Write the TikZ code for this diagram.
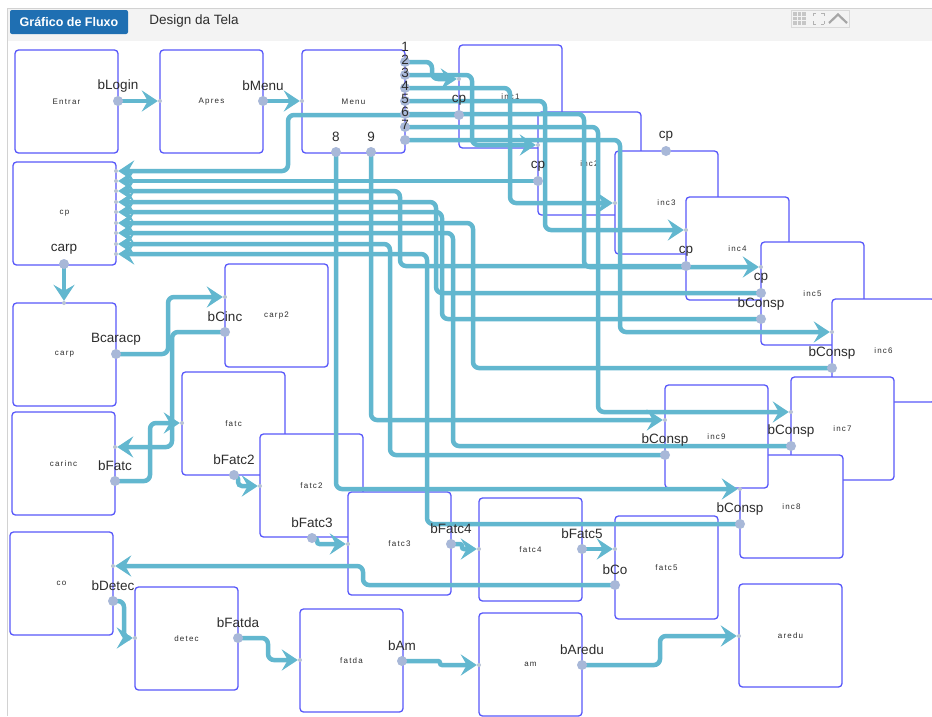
\documentclass[tikz,border=0pt]{standalone}
\usepackage{fontspec}
\setmainfont{Liberation Sans}
\newfontfamily\boxfont[LetterSpace=15]{Liberation Sans}
\usetikzlibrary{arrows.meta,calc}
\definecolor{boxc}{RGB}{88,88,250}
\definecolor{wirec}{RGB}{98,183,207}
\definecolor{portc}{RGB}{168,184,216}
\definecolor{inpc}{RGB}{185,195,212}
\definecolor{tabblue}{RGB}{31,111,178}
\definecolor{barc}{RGB}{243,243,243}
\definecolor{txt}{RGB}{45,45,45}
\pgfdeclarelayer{bg}\pgfdeclarelayer{boxes}\pgfdeclarelayer{wires}
\pgfsetlayers{bg,boxes,wires,main}
\newcommand\oport[4]{\node[outp] (#1) at (#2,#3) {};\node[plab] (#1-l) at (#2,#3-15) {#4};}
\newcommand\iport[3]{\node[inp] (#1) at (#2,#3) {};}
\begin{document}
\begin{tikzpicture}[x=1pt,y=-1pt,
  box/.style={draw=boxc, fill=white, line width=1.3pt, rounded corners=3.5pt, minimum width=103pt, minimum height=103pt, inner sep=0pt, font=\boxfont\fontsize{8}{9}\selectfont, text=txt},
  wire/.style={draw=wirec, line width=4.5pt, rounded corners=6pt},
  arr/.style={wire, -{Stealth[length=16pt,width=21pt,inset=6pt]}},
  outp/.style={circle, fill=portc, minimum size=10pt, inner sep=0pt},
  inp/.style={circle, fill=inpc, minimum size=4pt, inner sep=0pt},
  plab/.style={font=\fontsize{13.5}{14}\selectfont, text=txt, inner sep=0pt}]
\useasboundingbox (0,0) rectangle (932,716);
\begin{pgfonlayer}{bg}
\fill[white] (0,0) rectangle (932,716);
\fill[barc] (8,8) rectangle (932,41);
\draw[gray!35, line width=1pt] (7,716) -- (7,8) -- (932,8);
\fill[tabblue, rounded corners=2pt] (10,10) rectangle (128,34);
\node[white, font=\bfseries\fontsize{12.5}{13}\selectfont] (tab1) at (69,21.5) {Gráfico de Fluxo};
\node[txt, font=\fontsize{13.5}{14}\selectfont] (tab2) at (194,21) {Design da Tela};
\draw[gray!30, fill=barc] (791,10) rectangle (849,27);
\foreach \i in {0,1,2}{\foreach \j in {0,1,2}{\fill[gray!45] (793+\i*4.5,12+\j*4.5) rectangle ++(3.5,3.5);}}
\draw[gray!60, line width=0.8pt] (813,13) -- (816,13) (813,13) -- (813,16) (824,13) -- (821,13) (824,13) -- (824,16) (813,24) -- (816,24) (813,24) -- (813,21) (824,24) -- (821,24) (824,24) -- (824,21);
\draw[gray!70, line width=2.2pt] (829,23) -- (838,14.5) -- (847,23);
\end{pgfonlayer}
\begin{pgfonlayer}{boxes}
\node[box] (entrar) at (66.5,101.5) {Entrar};
\node[box] (apres) at (211.5,101.5) {Apres};
\node[box] (menu) at (353.5,101.5) {Menu};
\node[box] (inc1) at (510.5,96.5) {inc1};
\node[box] (inc2) at (589.5,163.5) {inc2};
\node[box] (inc3) at (666.5,202.5) {inc3};
\node[box] (inc4) at (737.5,248.5) {inc4};
\node[box] (inc5) at (812.5,293.5) {inc5};
\node[box] (inc6) at (883.5,350.5) {inc6};
\node[box] (inc7) at (842.5,428.5) {inc7};
\node[box] (inc8) at (791.5,506.5) {inc8};
\node[box] (inc9) at (716.5,436.5) {inc9};
\node[box] (cpbox) at (64.5,213.5) {cp};
\node[box] (carp) at (64.5,354.5) {carp};
\node[box] (carp2) at (276.5,315.5) {carp2};
\node[box] (carinc) at (63.5,463.5) {carinc};
\node[box] (fatc) at (233.5,423.5) {fatc};
\node[box] (fatc2) at (311.5,485.5) {fatc2};
\node[box] (fatc3) at (399.5,543.5) {fatc3};
\node[box] (fatc4) at (530.5,549.5) {fatc4};
\node[box] (fatc5) at (666.5,567.5) {fatc5};
\node[box] (co) at (61.5,583.5) {co};
\node[box] (detec) at (186.5,638.5) {detec};
\node[box] (fatda) at (351.5,660.5) {fatda};
\node[box] (am) at (530.5,664.5) {am};
\node[box] (aredu) at (790.5,635.5) {aredu};
\end{pgfonlayer}
% output ports
\oport{pLogin}{118}{101}{bLogin}
\oport{pMenu}{263}{101}{bMenu}
\oport{m1}{405}{62}{1}
\oport{m2}{405}{75}{2}
\oport{m3}{405}{88}{3}
\oport{m4}{405}{101}{4}
\oport{m5}{405}{114}{5}
\oport{m6}{405}{127}{6}
\oport{m7}{405}{140}{7}
\oport{m8}{336}{152}{8}
\oport{m9}{371}{152}{9}
\oport{c1}{459}{115}{cp}
\oport{c2}{538}{181}{cp}
\oport{c3}{666}{151}{cp}
\oport{c4}{686}{266}{cp}
\oport{c5}{761}{293}{cp}
\oport{b5}{761}{319}{bConsp}
\oport{b6}{832}{368}{bConsp}
\oport{b9}{665}{455}{bConsp}
\oport{b7}{791}{446}{bConsp}
\oport{b8}{740}{524}{bConsp}
\oport{pCarp}{64}{264}{carp}
\oport{pBcaracp}{116}{354}{Bcaracp}
\oport{pBCinc}{225}{332}{bCinc}
\oport{pBFatc}{115}{481}{bFatc}
\oport{pBFatc2}{234}{475}{bFatc2}
\oport{pBFatc3}{312}{538}{bFatc3}
\oport{pBFatc4}{451}{544}{bFatc4}
\oport{pBFatc5}{582}{549}{bFatc5}
\oport{pBCo}{615}{585}{bCo}
\oport{pBDetec}{113}{601}{bDetec}
\oport{pBFatda}{238}{638}{bFatda}
\oport{pBAm}{402}{661}{bAm}
\oport{pBAredu}{582}{665}{bAredu}
% input ports
\iport{iApres}{160}{101}
\iport{iMenu}{302}{101}
\iport{iInc1}{459}{79}
\iport{iInc2}{538}{145}
\iport{iInc3}{615}{203}
\iport{iInc4}{686}{230}
\iport{iInc5}{761}{267}
\iport{iInc6}{832}{332}
\iport{iInc7}{791}{412}
\iport{iInc9}{665}{420}
\iport{iInc8}{740}{489}
\iport{cpi1}{116}{171}
\iport{cpi2}{116}{181}
\iport{cpi3}{116}{191}
\iport{cpi4}{116}{202}
\iport{cpi5}{116}{212}
\iport{cpi6}{116}{223}
\iport{cpi7}{116}{233}
\iport{cpi8}{116}{244}
\iport{cpi9}{116}{254}
\iport{iCarp}{64}{303}
\iport{iCarp2}{225}{297}
\iport{iCarinc}{115}{447}
\iport{iFatc}{182}{423}
\iport{iFatc2}{260}{486}
\iport{iFatc3}{348}{544}
\iport{iFatc4}{479}{549}
\iport{iFatc5}{615}{549}
\iport{iCo}{113}{566}
\iport{iDetec}{135}{638}
\iport{iFatda}{300}{660}
\iport{iAm}{479}{665}
\iport{iAredu}{739}{636}
\begin{pgfonlayer}{wires}
\draw[arr] (pLogin.center) -- (iApres);
\draw[arr] (pMenu.center) -- (iMenu);
\draw[arr] (m1.center) -- (432,62) |- (iInc1);
\draw[arr] (m2.center) -- (472,75) |- (iInc2);
\draw[arr] (m3.center) -- (510,88) |- (iInc3);
\draw[arr] (m4.center) -- (545,101) |- (iInc4);
\draw[arr] (m5.center) -- (584,114) |- (iInc5);
\draw[arr] (m6.center) -- (598,127) |- (iInc7);
\draw[arr] (m7.center) -- (620,140) |- (iInc6);
\draw[arr] (m8.center) |- (iInc8);
\draw[arr] (m9.center) |- (iInc9);
\draw[arr] (c1.center) -- (288,115) |- (cpi1);
\draw[arr] (c2.center) -- (cpi2);
\draw[arr] (c4.center) -- (400,266) |- (cpi3);
\draw[arr] (c5.center) -- (436,293) |- (cpi4);
\draw[arr] (b5.center) -- (442,319) |- (cpi5);
\draw[arr] (b6.center) -- (473,368) |- (cpi6);
\draw[arr] (b7.center) -- (453,446) |- (cpi7);
\draw[arr] (b9.center) -- (390,455) |- (cpi8);
\draw[arr] (b8.center) -- (427,524) |- (cpi9);
\draw[arr] (pCarp.center) -- (iCarp);
\draw[arr] (pBcaracp.center) -- (168,354) |- (iCarp2);
\draw[arr] (pBCinc.center) -- (172,332) |- (iCarinc);
\draw[arr] (pBFatc.center) -- (150,481) |- (iFatc);
\draw[arr, rounded corners=4pt] (pBFatc2.center) -- (238,475) |- (iFatc2);
\draw[arr, rounded corners=2.5pt] (pBFatc3.center) -- (317,538) |- (iFatc3);
\draw[arr, rounded corners=2pt] (pBFatc4.center) -- (462,544) |- (iFatc4);
\draw[arr] (pBFatc5.center) -- (iFatc5);
\draw[arr] (pBCo.center) -- (363,585) |- (iCo);
\draw[arr] (pBDetec.center) -- (124,601) |- (iDetec);
\draw[arr] (pBFatda.center) -- (268,638) |- (iFatda);
\draw[arr, rounded corners=2pt] (pBAm.center) -- (440,661) |- (iAm);
\draw[arr] (pBAredu.center) -- (660,665) |- (iAredu);
\end{pgfonlayer}
\end{tikzpicture}
\end{document}
